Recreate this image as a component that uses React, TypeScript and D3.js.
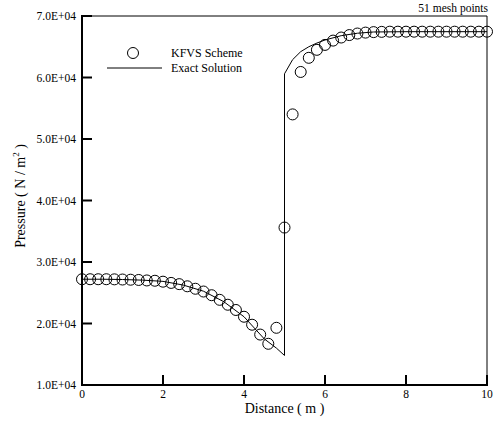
import React from 'react';
import * as d3 from 'd3';

// KFVS scheme, 51 mesh points (x = 0, 0.2, ..., 10)
const kfvsPressure = [
  27200, 27200, 27200, 27200, 27180, 27150, 27120, 27080, 27000, 26950,
  26800, 26600, 26400, 26050, 25650, 25200, 24600, 23850, 23050, 22200,
  21100, 19800, 18200, 16700, 19300, 35600, 54000, 60900, 63200, 64500,
  65300, 66000, 66500, 66900, 67150, 67300, 67380, 67420, 67450, 67450,
  67450, 67450, 67450, 67450, 67450, 67450, 67450, 67450, 67450, 67450,
  67450,
];
const kfvsX = kfvsPressure.map((_, i) => i * 0.2);

// exact solution (shock at x = 5)
const exactX = [0, 0.5, 1.0, 1.5, 2.0, 2.5, 3.0, 3.5, 4.0, 4.5, 4.8, 5.0, 5.0, 5.2, 5.4, 5.6, 5.8, 6.0, 6.4, 6.8, 7.2, 8, 10];
const exactPressure = [27200, 27200, 27150, 27050, 26850, 26250, 25250, 23550, 21100, 17500, 16000, 14800, 60600, 62900, 64200, 65000, 65600, 66100, 66800, 67200, 67400, 67450, 67450];

const xTicks = [0, 2, 4, 6, 8, 10];
const yTicks = [10000, 20000, 30000, 40000, 50000, 60000, 70000];

const W = 496;
const H = 423;
const left = 82;
const right = 487;
const top = 16;
const bottom = 385;
const font = '"Liberation Serif", "Times New Roman", serif';

export default function App() {
  const x = d3.scaleLinear().domain([0, 10]).range([left, right]);
  const y = d3.scaleLinear().domain([10000, 70000]).range([bottom, top]);

  const line = d3.line<number>()
    .x((_, i) => x(exactX[i]))
    .y(d => y(d));

  const fmt = (v: number) => (v / 10000).toFixed(1) + 'E+04';

  return (
    <svg width={W} height={H} style={{ position: 'absolute', left: 0, top: 0, background: '#fff' }} fontFamily={font}>
      {/* frame */}
      <line x1={left} x2={right} y1={top} y2={top} stroke="#000" strokeWidth={1} />
      <line x1={right} x2={right} y1={top} y2={bottom} stroke="#000" strokeWidth={1} />
      <line x1={left} x2={left} y1={top - 1} y2={bottom + 1} stroke="#000" strokeWidth={2} />
      <line x1={left - 1} x2={right + 1} y1={bottom} y2={bottom} stroke="#000" strokeWidth={2} />

      {/* y ticks */}
      {yTicks.map(t => (
        <g key={'y' + t}>
          <line x1={left} x2={left + 10} y1={y(t)} y2={y(t)} stroke="#000" strokeWidth={2} />
          <text x={left - 6} y={y(t)} dy="0.35em" textAnchor="end" fontSize={11.5}>{fmt(t)}</text>
        </g>
      ))}

      {/* x ticks */}
      {xTicks.map(t => (
        <g key={'x' + t}>
          <line x1={x(t)} x2={x(t)} y1={bottom} y2={bottom - 10} stroke="#000" strokeWidth={2} />
          <text x={x(t)} y={398} textAnchor="middle" fontSize={11.5}>{t}</text>
        </g>
      ))}

      {/* axis titles */}
      <text x={(left + right) / 2} y={413} textAnchor="middle" fontSize={14}>Distance ( m )</text>
      <text transform={`translate(25,${196}) rotate(-90)`} textAnchor="middle" fontSize={14}>
        Pressure ( N / m<tspan fontSize={9} dy={-6}>2</tspan><tspan dy={6}> )</tspan>
      </text>
      <text x={488} y={12} textAnchor="end" fontSize={11.5}>51 mesh points</text>

      {/* exact solution */}
      <path d={line(exactPressure) || ''} fill="none" stroke="#000" strokeWidth={1} />

      {/* KFVS circles */}
      {kfvsPressure.map((p, i) => (
        <circle key={i} cx={x(kfvsX[i])} cy={y(p)} r={5.5} fill="none" stroke="#000" strokeWidth={1} />
      ))}

      {/* legend */}
      <circle cx={133} cy={53} r={5.5} fill="none" stroke="#000" strokeWidth={1} />
      <text x={171} y={57} fontSize={12}>KFVS Scheme</text>
      <line x1={107} x2={162} y1={68} y2={68} stroke="#000" strokeWidth={1} />
      <text x={171} y={72} fontSize={12}>Exact Solution</text>
    </svg>
  );
}
